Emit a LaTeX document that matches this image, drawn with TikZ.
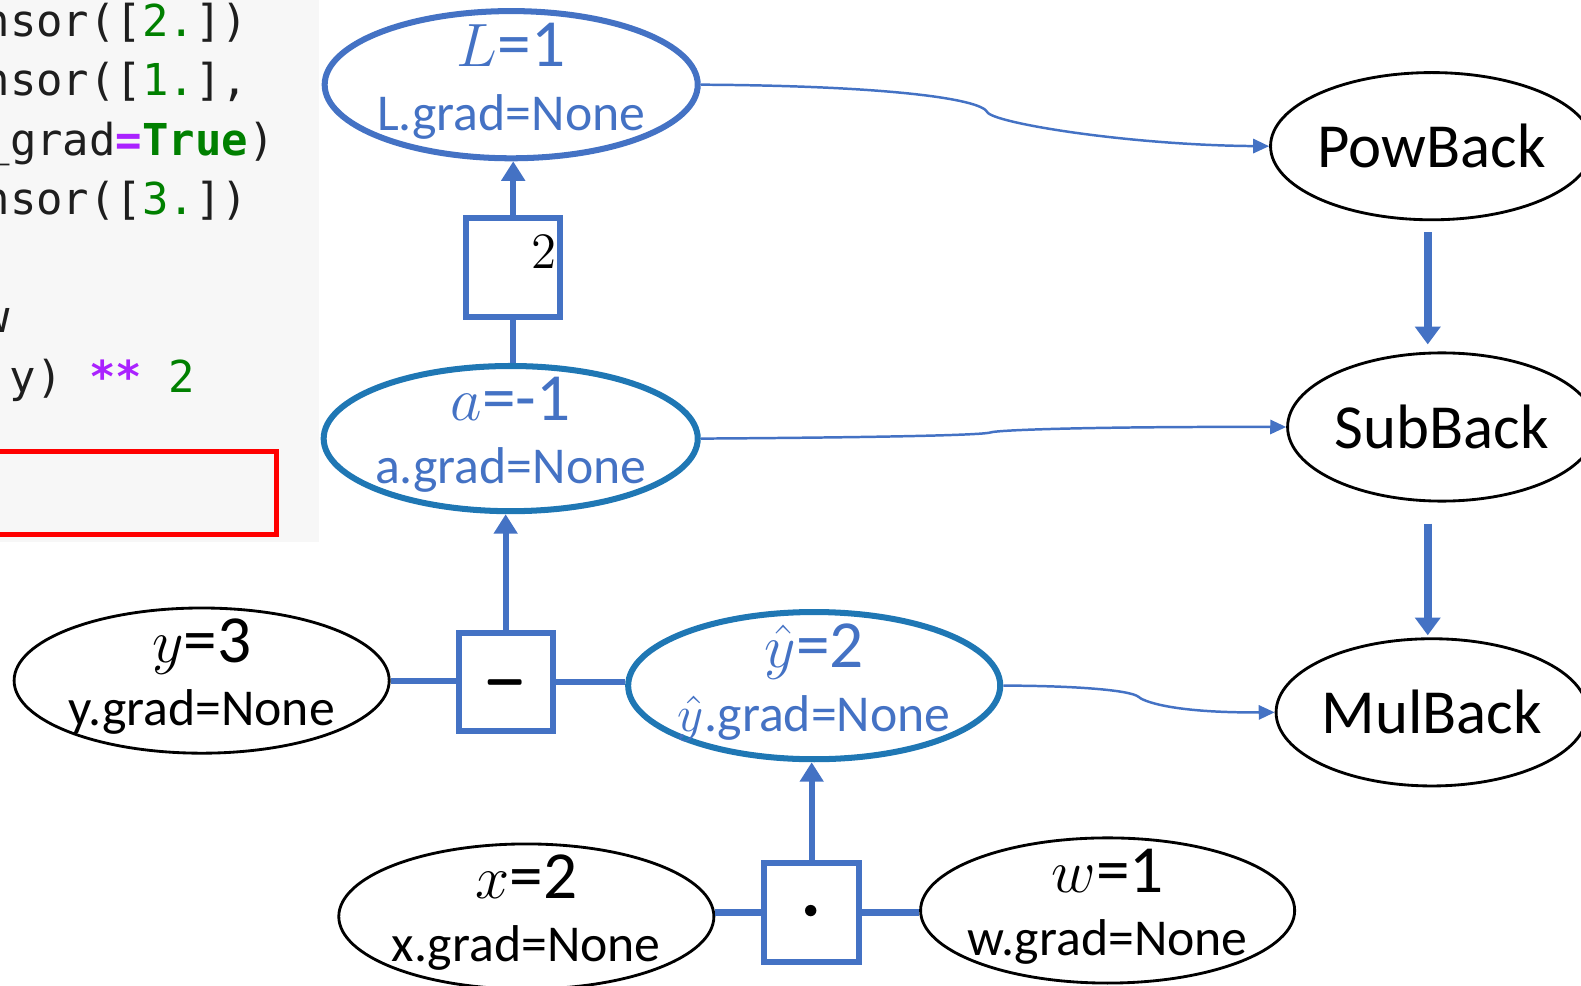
\documentclass[tikz,border=0pt]{standalone}
\usepackage{fontspec}
\setmainfont{Carlito}
\setmonofont{DejaVu Sans Mono}
\usepackage{amsmath,amssymb,bm}
\usetikzlibrary{arrows.meta, positioning, shapes.geometric, calc}

\definecolor{opblue}{RGB}{68,114,196}
\definecolor{varblue}{RGB}{31,119,180}
\definecolor{codebg}{RGB}{247,247,247}
\definecolor{codegreen}{RGB}{0,128,0}
\definecolor{codepurple}{RGB}{170,34,255}
\definecolor{codetext}{RGB}{30,30,30}

\newcommand{\topsz}{\fontsize{19}{22}\selectfont}
\newcommand{\botsz}{\fontsize{14.6}{17}\selectfont}
\newcommand{\backsz}{\fontsize{17.7}{20}\selectfont}
\newcommand{\codesz}{\fontsize{12.4}{15}\selectfont}

\tikzset{
  leafvar/.style={ellipse, draw=black, line width=0.8pt, minimum width=3.72cm, minimum height=1.44cm, inner sep=0pt},
  gradvar/.style={ellipse, draw=varblue, line width=1.7pt, minimum width=3.70cm, minimum height=1.46cm, inner sep=0pt},
  opbox/.style={rectangle, draw=opblue, line width=1.7pt, minimum width=0.93cm, minimum height=0.98cm, inner sep=0pt},
  backfn/.style={ellipse, draw=black, line width=0.8pt, minimum width=3.06cm, minimum height=1.46cm, inner sep=0pt, font=\backsz},
  valtop/.style={font=\topsz, text height=13pt, text depth=0pt, inner sep=0pt, yshift=0.41cm},
  valbot/.style={font=\botsz, text height=9.4pt, text depth=0pt, inner sep=0pt, yshift=-0.285cm},
  bluetext/.style={text=opblue},
  wire/.style={draw=opblue, line width=1.7pt},
  fwd/.style={wire, -{Triangle[length=5.5pt,width=6.5pt]}},
  bwd/.style={draw=opblue, line width=2.3pt, -{Triangle[length=5pt,width=7pt]}},
  link/.style={draw=opblue, line width=0.7pt, -{Triangle[length=4.5pt,width=4pt]}},
  codeline/.style={anchor=base west, inner sep=0pt, font=\codesz\ttfamily, text=codetext},
}

\begin{document}
\begin{tikzpicture}
\useasboundingbox (0,0) rectangle (15.68,-9.77);

% code panel
\fill[codebg] (0,0) rectangle (3.16,-5.38);
\node[codeline] (code1) at (-0.17,-0.36) {nsor([\textcolor{codegreen}{2.}])};
\node[codeline] (code2) at (-0.17,-0.95) {nsor([\textcolor{codegreen}{1.}],};
\node[codeline] (code3) at (-0.17,-1.54) {\_grad\textcolor{codepurple}{\textbf{=}}\textcolor{codegreen}{\textbf{True}})};
\node[codeline] (code4) at (-0.17,-2.13) {nsor([\textcolor{codegreen}{3.}])};
\node[codeline] (code6) at (-0.17,-3.30) {w};
\node[codeline] (code7) at (0.092,-3.89) {y) \textcolor{codepurple}{\textbf{**}} \textcolor{codegreen}{2}};
\draw[red, line width=1.4pt, fill=codebg] (-0.1,-4.475) rectangle (2.745,-5.305);

% forward graph
\node[gradvar, draw=opblue, label={[valtop,bluetext]center:{$L$=1}}, label={[valbot,bluetext]center:{L.grad=None}}] (L) at (5.07,-0.84) {};
\node[opbox] (powop) at (5.09,-2.65) {};
\node[inner sep=0pt, font=\fontsize{15}{17}\selectfont] (powexp) at (5.40,-2.50) {$2$};
\node[gradvar, minimum width=3.71cm, minimum height=1.44cm, label={[valtop,bluetext]center:{$a$=-1}}, label={[valbot,bluetext]center:{a.grad=None}}] (a) at (5.065,-4.35) {};
\node[opbox, minimum height=0.97cm] (minus) at (5.015,-6.765) {\fontsize{15}{15}\selectfont\scalebox{0.95}[1.8]{$\bm{-}$}};
\node[leafvar, label={[valtop]center:{$y$=3}}, label={[valbot]center:{y.grad=None}}] (y) at (2.00,-6.75) {};
\node[gradvar, minimum width=3.69cm, label={[valtop,bluetext]center:{$\hat{y}$=2}}, label={[valbot,bluetext]center:{$\hat{y}$.grad=None}}] (yhat) at (8.075,-6.80) {};
\node[opbox, minimum width=0.94cm] (dot) at (8.05,-9.05) {\fontsize{20}{20}\selectfont$\bm{\cdot}$};
\node[leafvar, label={[valtop]center:{$x$=2}}, label={[valbot]center:{x.grad=None}}] (x) at (5.22,-9.09) {};
\node[leafvar, minimum width=3.71cm, label={[valtop]center:{$w$=1}}, label={[valbot]center:{w.grad=None}}] (w) at (10.985,-9.03) {};

\draw[wire] (y.east) -- (y.east -| minus.west);
\draw[wire] (minus.east) -- (minus.east -| yhat.west);
\draw[wire] (dot.west -| x.east) -- (dot.west);
\draw[wire] (dot.east) -- (dot.east -| w.west);
\draw[fwd] (dot.north) -- (dot.north |- yhat.south);
\draw[fwd] (minus.north) -- (minus.north |- a.south);
\draw[wire] (powop.south) -- (powop.south |- a.north);
\draw[fwd] (powop.north) -- (powop.north |- L.south);

% backward functions
\node[backfn] (pow) at (14.20,-1.45) {PowBack};
\node[backfn, minimum height=1.47cm] (sub) at (14.30,-4.235) {SubBack};
\node[backfn] (mul) at (14.20,-7.065) {MulBack};
\coordinate (bcol) at (14.16,0);
\draw[bwd, shorten <=0.11cm, shorten >=0.07cm] (pow.south -| bcol) -- (sub.north -| bcol);
\draw[bwd, shorten <=0.21cm, shorten >=0.02cm] (sub.south -| bcol) -- (mul.north -| bcol);

\draw[link] (L.east) .. controls (8.8,-0.85) and (9.72,-0.98) .. (9.79,-1.11) .. controls (9.84,-1.22) and (11.2,-1.44) .. (pow.west);
\draw[link] (a.east) .. controls (8.5,-4.34) and (9.7,-4.32) .. (9.82,-4.29) .. controls (9.9,-4.26) and (11,-4.23) .. (sub.west);
\draw[link] (yhat.east) .. controls (10.6,-6.80) and (11.2,-6.84) .. (11.29,-6.91) .. controls (11.33,-6.95) and (11.6,-7.07) .. (mul.west);
\end{tikzpicture}
\end{document}
